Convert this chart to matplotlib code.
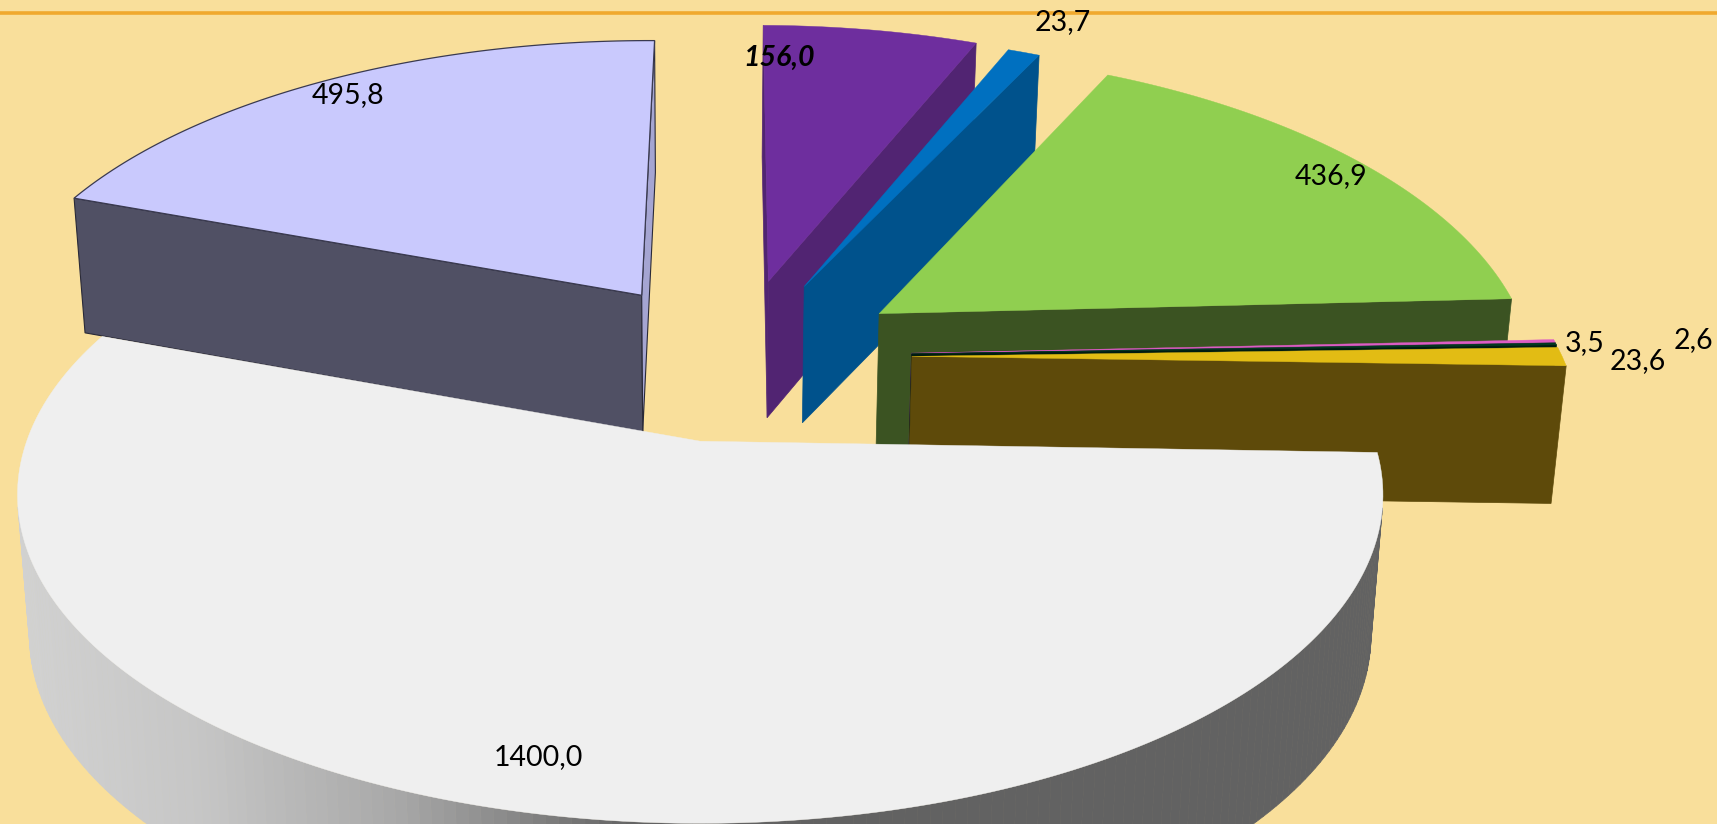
#!/usr/bin/python
import numpy as np
import matplotlib
matplotlib.use('Agg')
import matplotlib.pyplot as plt
from matplotlib.patches import Polygon

# slices in drawing order, clockwise from the right edge of the big one
names = ['big', 'lilac', 'purple', 'blue', 'green', 'pink', 'dark', 'yellow']
values = [1400.0, 495.8, 156.0, 23.7, 436.9, 3.5, 2.6, 23.6]
value_labels = ['1400,0', '495,8', '156,0', '23,7', '436,9', '3,5', '2,6', '23,6']

top_colors = ['#EFEFEF', '#C9C9FD', '#6E2E9E', '#0070C0', '#90CF50', '#DC5CC4', '#00391F', '#E2BC14']
side_colors = ['#808080', '#505064', '#512472', '#00528C', '#3B5322', '#70306A', '#001C10', '#5E4A0A']
explode = [0.284, 0.26, 0.27, 0.27, 0.27, 0.27, 0.27, 0.27]
radius = [0.989, 1.02, 1.02, 1.02, 1.005, 0.998, 0.998, 0.998]
stretch = [1.01, 1.06, 1.085, 1.07, 1.095, 1.08, 1.08, 1.08]
# small corrections of the slice edges, degrees
nudge_start = [0, 0, 0, 0.5, 1.0, -0.3, -0.3, -0.3]
nudge_end = [0, 0, 0.5, 0.5, -0.6, -0.3, -0.3, -0.3]

label_x = [538, 348, 779, 1063, 1331, 1585, 1693, 1638]
label_y = [757, 95, 58, 22, 176, 343, 340, 361]

# shading of the big slice's rim along the picture
rim_x = [16, 200, 400, 500, 640, 1717]
rim_grey = [0xD2, 0xC6, 0xA8, 0x8C, 0x62, 0x62]

START = 2.0
CX, CY = 700.8, 441.0   # apex of big slice, pixels
RX, RY = 681.0, 320.0
PERSP = 0.1635
CU, CV = 0.054, -0.278  # pie centre in the plane
DEPTH = 139.0
CONV = 0.0175


def proj(u, v):
    s = 1.0 / (1.0 - PERSP * v)
    return CX + RX * u * s, CY + RY * v * s


def lower(x, y):
    s = 1.0 + (y - CY) * PERSP / RY
    return x + (CX - x) * CONV, y + DEPTH * (1.0 + 0.25 * (s - 1.0))


def grey_at(x):
    g = np.interp(x, rim_x, rim_grey) / 255.0
    return (g, g, g)


fig = plt.figure(figsize=(17.17, 8.24), dpi=100, facecolor='#F9DF9B')
ax = fig.add_axes([0, 0, 1, 1])
ax.set_xlim(0, 1717)
ax.set_ylim(824, 0)
ax.axis('off')
ax.plot([0, 1717], [13, 13], color='#F0A92E', lw=2.6, zorder=1)

angles = START + np.cumsum([0] + values) / sum(values) * 360.0
z = 2
# big slice goes on top, so it is drawn last
for i in [1, 2, 3, 4, 5, 6, 7, 0]:
    mid = np.radians(0.5 * (angles[i] + angles[i + 1]))
    a0 = np.radians(angles[i] + nudge_start[i])
    a1 = np.radians(angles[i + 1] + nudge_end[i])
    u0 = CU + explode[i] * np.cos(mid)
    v0 = CV + explode[i] * np.sin(mid)
    th = np.linspace(a0, a1, max(3, int((a1 - a0) * 60)))
    us = np.r_[u0, u0 + radius[i] * np.cos(th)]
    vs = np.r_[v0, v0 + radius[i] * stretch[i] * np.sin(th)]
    xs, ys = proj(us, vs)
    bx, by = lower(xs, ys)
    n = len(xs)
    # sides, only the ones turned to the viewer
    for k in range(n):
        j = (k + 1) % n
        q = np.array([[xs[k], ys[k]], [xs[j], ys[j]], [bx[j], by[j]], [bx[k], by[k]]])
        area = 0.5 * np.sum(q[:, 0] * np.roll(q[:, 1], -1) - np.roll(q[:, 0], -1) * q[:, 1])
        if area >= 0:
            continue
        col = side_colors[i]
        ec = col
        lw = 0.5
        if i == 0 and k > 0 and j > 0:
            col = grey_at(q[:, 0].mean())
            ec = col
        if i == 1:
            ec = '#2A2A38'
            lw = 0.8
            if j == 0:
                col = '#A5A5D2'
        ax.add_patch(Polygon(q, closed=True, fc=col, ec=ec, lw=lw, zorder=z))
        z += 1
    ec = '#3A3A50' if i == 1 else top_colors[i]
    lw = 0.9 if i == 1 else 0.3
    ax.add_patch(Polygon(np.c_[xs, ys], closed=True, fc=top_colors[i], ec=ec, lw=lw, zorder=z))
    z += 1

for i, lab in enumerate(value_labels):
    if i == 2:
        ax.text(label_x[i], label_y[i], lab, ha='center', va='center', fontsize=20.5,
                family='Lato', style='italic', weight='bold', color='black', zorder=z)
    else:
        ax.text(label_x[i], label_y[i], lab, ha='center', va='center', fontsize=20.5,
                family='Lato', color='black', zorder=z)

fig.savefig('out.png', dpi=100, facecolor=fig.get_facecolor())
